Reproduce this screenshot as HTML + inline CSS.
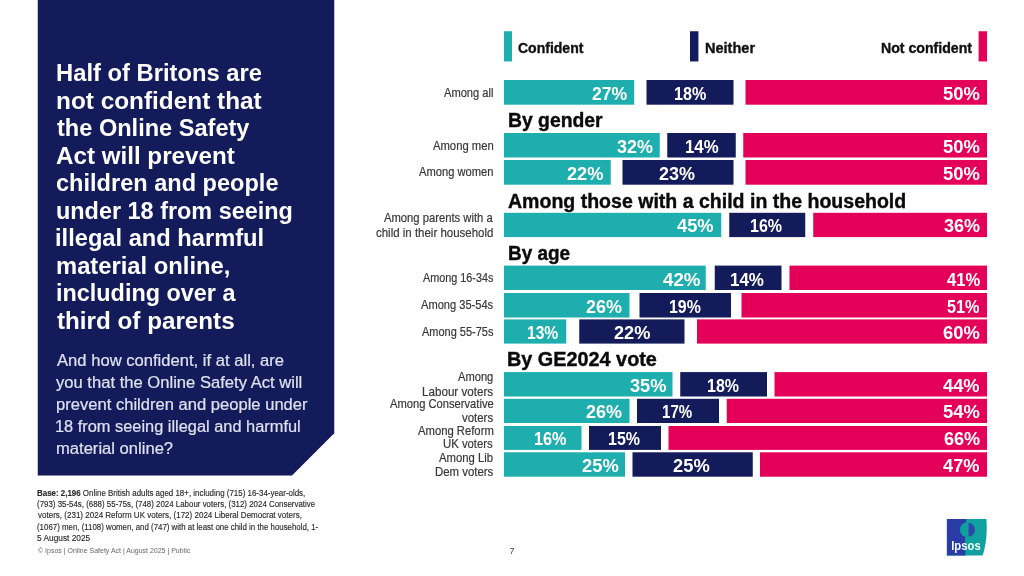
<!DOCTYPE html>
<html lang="en"><head><meta charset="utf-8"><title>Ipsos | Online Safety Act</title>
<style>
html,body{margin:0;padding:0;background:#fff}
body{width:1024px;height:576px;position:relative;overflow:hidden;font-family:"Liberation Sans",sans-serif}
.t{position:absolute;white-space:nowrap;line-height:1;margin:0;transform-origin:0 50%}
.b{position:absolute;height:24.40px}
.panel{position:absolute;left:0;top:0}
</style></head><body>
<svg class="panel" width="1024" height="576" viewBox="0 0 1024 576">
<polygon points="37.75,0 334.25,0 334.25,433.3 292,475.6 37.75,475.6" fill="#131b5a"/>
<rect x="504" y="31.25" width="8" height="30.2" fill="#1eaead"/>
<rect x="690" y="31.25" width="8.4" height="30.2" fill="#131b5a"/>
<rect x="978.6" y="31.25" width="8.4" height="30.2" fill="#e40058"/>
<rect x="504.00" y="80.00" width="130.25" height="24.70" fill="#1eaead"/>
<rect x="646.50" y="80.00" width="87.00" height="24.70" fill="#131b5a"/>
<rect x="745.50" y="80.00" width="241.50" height="24.70" fill="#e40058"/>
<rect x="504.00" y="133.00" width="155.75" height="24.50" fill="#1eaead"/>
<rect x="667.25" y="133.00" width="68.50" height="24.50" fill="#131b5a"/>
<rect x="743.25" y="133.00" width="243.75" height="24.50" fill="#e40058"/>
<rect x="504.00" y="160.00" width="106.75" height="24.70" fill="#1eaead"/>
<rect x="622.50" y="160.00" width="111.00" height="24.70" fill="#131b5a"/>
<rect x="745.50" y="160.00" width="241.50" height="24.70" fill="#e40058"/>
<rect x="504.00" y="212.80" width="217.25" height="24.30" fill="#1eaead"/>
<rect x="729.25" y="212.80" width="76.00" height="24.30" fill="#131b5a"/>
<rect x="813.25" y="212.80" width="173.75" height="24.30" fill="#e40058"/>
<rect x="504.00" y="265.60" width="201.75" height="24.40" fill="#1eaead"/>
<rect x="714.75" y="265.60" width="66.75" height="24.40" fill="#131b5a"/>
<rect x="789.50" y="265.60" width="197.50" height="24.40" fill="#e40058"/>
<rect x="504.00" y="293.00" width="125.50" height="24.50" fill="#1eaead"/>
<rect x="639.50" y="293.00" width="91.50" height="24.50" fill="#131b5a"/>
<rect x="741.50" y="293.00" width="245.50" height="24.50" fill="#e40058"/>
<rect x="504.00" y="319.40" width="62.25" height="24.20" fill="#1eaead"/>
<rect x="579.25" y="319.40" width="105.25" height="24.20" fill="#131b5a"/>
<rect x="697.00" y="319.40" width="290.00" height="24.20" fill="#e40058"/>
<rect x="504.00" y="372.10" width="168.50" height="24.40" fill="#1eaead"/>
<rect x="680.25" y="372.10" width="86.75" height="24.40" fill="#131b5a"/>
<rect x="774.50" y="372.10" width="212.50" height="24.40" fill="#e40058"/>
<rect x="504.00" y="398.80" width="125.50" height="24.20" fill="#1eaead"/>
<rect x="637.00" y="398.80" width="82.00" height="24.20" fill="#131b5a"/>
<rect x="726.75" y="398.80" width="260.25" height="24.20" fill="#e40058"/>
<rect x="504.00" y="426.00" width="77.50" height="23.90" fill="#1eaead"/>
<rect x="589.00" y="426.00" width="72.00" height="23.90" fill="#131b5a"/>
<rect x="668.50" y="426.00" width="318.50" height="23.90" fill="#e40058"/>
<rect x="504.00" y="452.30" width="121.00" height="24.40" fill="#1eaead"/>
<rect x="632.50" y="452.30" width="120.25" height="24.40" fill="#131b5a"/>
<rect x="760.00" y="452.30" width="227.00" height="24.40" fill="#e40058"/>
</svg>
<div class="t" style="left:55.73px;top:62.00px;font-size:23.5px;font-weight:700;color:#ffffff;transform:scaleX(1.0112)">Half of Britons are</div>
<div class="t" style="left:55.69px;top:90.00px;font-size:23.5px;font-weight:700;color:#ffffff;transform:scaleX(1.0369)">not confident that</div>
<div class="t" style="left:57.00px;top:117.00px;font-size:23.5px;font-weight:700;color:#ffffff;transform:scaleX(1.0026)">the Online Safety</div>
<div class="t" style="left:56.48px;top:145.00px;font-size:23.5px;font-weight:700;color:#ffffff;transform:scaleX(1.0289)">Act will prevent</div>
<div class="t" style="left:56.25px;top:172.00px;font-size:23.5px;font-weight:700;color:#ffffff;transform:scaleX(1.0023)">children and people</div>
<div class="t" style="left:55.75px;top:200.00px;font-size:23.5px;font-weight:700;color:#ffffff;transform:scaleX(0.9968)">under 18 from seeing</div>
<div class="t" style="left:55.49px;top:227.00px;font-size:23.5px;font-weight:700;color:#ffffff;transform:scaleX(1.0073)">illegal and harmful</div>
<div class="t" style="left:55.73px;top:255.00px;font-size:23.5px;font-weight:700;color:#ffffff;transform:scaleX(1.0118)">material online,</div>
<div class="t" style="left:55.51px;top:282.00px;font-size:23.5px;font-weight:700;color:#ffffff;transform:scaleX(0.9958)">including over a</div>
<div class="t" style="left:56.99px;top:310.00px;font-size:23.5px;font-weight:700;color:#ffffff;transform:scaleX(1.0307)">third of parents</div>
<div class="t" style="left:56.75px;top:353.00px;font-size:15.8px;font-weight:400;color:#dee1ef;transform:scaleX(1.0511);-webkit-text-stroke:0.2px #dee1ef">And how confident, if at all, are</div>
<div class="t" style="left:56.49px;top:375.00px;font-size:15.8px;font-weight:400;color:#dee1ef;transform:scaleX(1.0504);-webkit-text-stroke:0.2px #dee1ef">you that the Online Safety Act will</div>
<div class="t" style="left:55.70px;top:397.00px;font-size:15.8px;font-weight:400;color:#dee1ef;transform:scaleX(1.0493);-webkit-text-stroke:0.2px #dee1ef">prevent children and people under</div>
<div class="t" style="left:55.45px;top:419.00px;font-size:15.8px;font-weight:400;color:#dee1ef;transform:scaleX(1.0362);-webkit-text-stroke:0.2px #dee1ef">18 from seeing illegal and harmful</div>
<div class="t" style="left:55.70px;top:441.00px;font-size:15.8px;font-weight:400;color:#dee1ef;transform:scaleX(1.0500);-webkit-text-stroke:0.2px #dee1ef">material online?</div>
<div class="t" style="left:37.35px;top:489.00px;font-size:8.9px;font-weight:400;color:#2a2a2a;transform:scaleX(0.8936);-webkit-text-stroke:0.15px #2a2a2a"><b>Base: 2,196</b> Online British adults aged 18+, including (715) 16-34-year-olds,</div>
<div class="t" style="left:37.35px;top:500.00px;font-size:8.9px;font-weight:400;color:#2a2a2a;transform:scaleX(0.8905);-webkit-text-stroke:0.15px #2a2a2a">(793) 35-54s, (688) 55-75s, (748) 2024 Labour voters, (312) 2024 Conservative</div>
<div class="t" style="left:37.80px;top:511.00px;font-size:8.9px;font-weight:400;color:#2a2a2a;transform:scaleX(0.9037);-webkit-text-stroke:0.15px #2a2a2a">voters, (231) 2024 Reform UK voters, (172) 2024 Liberal Democrat voters,</div>
<div class="t" style="left:37.36px;top:523.00px;font-size:8.9px;font-weight:400;color:#2a2a2a;transform:scaleX(0.8870);-webkit-text-stroke:0.15px #2a2a2a">(1067) men, (1108) women, and (747) with at least one child in the household, 1-</div>
<div class="t" style="left:37.33px;top:534.00px;font-size:8.9px;font-weight:400;color:#2a2a2a;transform:scaleX(0.9363);-webkit-text-stroke:0.15px #2a2a2a">5 August 2025</div>
<div class="t" style="left:37.80px;top:547.00px;font-size:7.6px;font-weight:400;color:#666666;transform:scaleX(0.9192)">© Ipsos | Online Safety Act | August 2025 | Public</div>
<div class="t" style="left:509.50px;top:547.00px;font-size:9px;font-weight:400;color:#444444;transform:scaleX(1.0000)">7</div>
<div class="t" style="left:518.24px;top:42.00px;font-size:13.8px;font-weight:700;color:#111111;transform:scaleX(1.0157);-webkit-text-stroke:0.35px #111111">Confident</div>
<div class="t" style="left:704.65px;top:42.00px;font-size:13.8px;font-weight:700;color:#111111;transform:scaleX(1.0530);-webkit-text-stroke:0.35px #111111">Neither</div>
<div class="t" style="left:881.38px;top:42.00px;font-size:13.8px;font-weight:700;color:#111111;transform:scaleX(1.0245);-webkit-text-stroke:0.35px #111111">Not confident</div>
<div class="t" style="left:507.56px;top:110.00px;font-size:20.3px;font-weight:700;color:#0a0a0a;transform:scaleX(0.9540);-webkit-text-stroke:0.4px #0a0a0a">By gender</div>
<div class="t" style="left:508.27px;top:191.00px;font-size:20.3px;font-weight:700;color:#0a0a0a;transform:scaleX(0.9630);-webkit-text-stroke:0.4px #0a0a0a">Among those with a child in the household</div>
<div class="t" style="left:507.58px;top:243.00px;font-size:20.3px;font-weight:700;color:#0a0a0a;transform:scaleX(0.9341);-webkit-text-stroke:0.4px #0a0a0a">By age</div>
<div class="t" style="left:507.28px;top:349.00px;font-size:20.3px;font-weight:700;color:#0a0a0a;transform:scaleX(0.9776);-webkit-text-stroke:0.4px #0a0a0a">By GE2024 vote</div>
<div class="t" style="left:592.25px;top:86.00px;font-size:17.7px;font-weight:700;color:#ffffff;transform:scaleX(0.9957)">27%</div>
<div class="t" style="left:673.59px;top:86.00px;font-size:17.7px;font-weight:700;color:#ffffff;transform:scaleX(0.9118)">18%</div>
<div class="t" style="left:943.08px;top:86.00px;font-size:17.7px;font-weight:700;color:#ffffff;transform:scaleX(1.0406)">50%</div>
<div class="t" style="left:444.00px;top:87.00px;font-size:12.1px;font-weight:400;color:#383838;transform:scaleX(0.9198);-webkit-text-stroke:0.2px #383838">Among all</div>
<div class="t" style="left:616.99px;top:139.00px;font-size:17.7px;font-weight:700;color:#ffffff;transform:scaleX(1.0145)">32%</div>
<div class="t" style="left:684.80px;top:139.00px;font-size:17.7px;font-weight:700;color:#ffffff;transform:scaleX(0.9485)">14%</div>
<div class="t" style="left:943.08px;top:139.00px;font-size:17.7px;font-weight:700;color:#ffffff;transform:scaleX(1.0406)">50%</div>
<div class="t" style="left:432.75px;top:140.00px;font-size:12.1px;font-weight:400;color:#383838;transform:scaleX(0.9302);-webkit-text-stroke:0.2px #383838">Among men</div>
<div class="t" style="left:566.99px;top:166.00px;font-size:17.7px;font-weight:700;color:#ffffff;transform:scaleX(1.0290)">22%</div>
<div class="t" style="left:659.49px;top:166.00px;font-size:17.7px;font-weight:700;color:#ffffff;transform:scaleX(1.0145)">23%</div>
<div class="t" style="left:943.08px;top:166.00px;font-size:17.7px;font-weight:700;color:#ffffff;transform:scaleX(1.0406)">50%</div>
<div class="t" style="left:419.00px;top:166.00px;font-size:12.1px;font-weight:400;color:#383838;transform:scaleX(0.9219);-webkit-text-stroke:0.2px #383838">Among women</div>
<div class="t" style="left:677.14px;top:218.00px;font-size:17.7px;font-weight:700;color:#ffffff;transform:scaleX(1.0331)">45%</div>
<div class="t" style="left:750.39px;top:218.00px;font-size:17.7px;font-weight:700;color:#ffffff;transform:scaleX(0.9059)">16%</div>
<div class="t" style="left:943.99px;top:218.00px;font-size:17.7px;font-weight:700;color:#ffffff;transform:scaleX(1.0174)">36%</div>
<div class="t" style="left:384.00px;top:212.00px;font-size:12.1px;font-weight:400;color:#383838;transform:scaleX(0.9295);-webkit-text-stroke:0.2px #383838">Among parents with a</div>
<div class="t" style="left:376.03px;top:227.00px;font-size:12.1px;font-weight:400;color:#383838;transform:scaleX(0.9490);-webkit-text-stroke:0.2px #383838">child in their household</div>
<div class="t" style="left:662.64px;top:272.00px;font-size:17.7px;font-weight:700;color:#ffffff;transform:scaleX(1.0590)">42%</div>
<div class="t" style="left:730.24px;top:272.00px;font-size:17.7px;font-weight:700;color:#ffffff;transform:scaleX(0.9588)">14%</div>
<div class="t" style="left:946.77px;top:272.00px;font-size:17.7px;font-weight:700;color:#ffffff;transform:scaleX(0.9381)">41%</div>
<div class="t" style="left:422.75px;top:272.00px;font-size:12.1px;font-weight:400;color:#383838;transform:scaleX(0.8946);-webkit-text-stroke:0.2px #383838">Among 16-34s</div>
<div class="t" style="left:586.49px;top:299.00px;font-size:17.7px;font-weight:700;color:#ffffff;transform:scaleX(1.0145)">26%</div>
<div class="t" style="left:669.10px;top:299.00px;font-size:17.7px;font-weight:700;color:#ffffff;transform:scaleX(0.8971)">19%</div>
<div class="t" style="left:947.14px;top:299.00px;font-size:17.7px;font-weight:700;color:#ffffff;transform:scaleX(0.9188)">51%</div>
<div class="t" style="left:421.00px;top:299.00px;font-size:12.1px;font-weight:400;color:#383838;transform:scaleX(0.9169);-webkit-text-stroke:0.2px #383838">Among 35-54s</div>
<div class="t" style="left:526.87px;top:325.00px;font-size:17.7px;font-weight:700;color:#ffffff;transform:scaleX(0.8824)">13%</div>
<div class="t" style="left:613.99px;top:325.00px;font-size:17.7px;font-weight:700;color:#ffffff;transform:scaleX(1.0290)">22%</div>
<div class="t" style="left:943.12px;top:325.00px;font-size:17.7px;font-weight:700;color:#ffffff;transform:scaleX(1.0394)">60%</div>
<div class="t" style="left:421.75px;top:326.00px;font-size:12.1px;font-weight:400;color:#383838;transform:scaleX(0.9073);-webkit-text-stroke:0.2px #383838">Among 55-75s</div>
<div class="t" style="left:630.24px;top:378.00px;font-size:17.7px;font-weight:700;color:#ffffff;transform:scaleX(1.0290)">35%</div>
<div class="t" style="left:707.35px;top:378.00px;font-size:17.7px;font-weight:700;color:#ffffff;transform:scaleX(0.9044)">18%</div>
<div class="t" style="left:943.14px;top:378.00px;font-size:17.7px;font-weight:700;color:#ffffff;transform:scaleX(1.0302)">44%</div>
<div class="t" style="left:458.25px;top:371.00px;font-size:12.1px;font-weight:400;color:#383838;transform:scaleX(0.9200);-webkit-text-stroke:0.2px #383838">Among</div>
<div class="t" style="left:422.04px;top:386.00px;font-size:12.1px;font-weight:400;color:#383838;transform:scaleX(0.9621);-webkit-text-stroke:0.2px #383838">Labour voters</div>
<div class="t" style="left:586.49px;top:404.00px;font-size:17.7px;font-weight:700;color:#ffffff;transform:scaleX(1.0145)">26%</div>
<div class="t" style="left:662.15px;top:404.00px;font-size:17.7px;font-weight:700;color:#ffffff;transform:scaleX(0.8529)">17%</div>
<div class="t" style="left:942.78px;top:404.00px;font-size:17.7px;font-weight:700;color:#ffffff;transform:scaleX(1.0377)">54%</div>
<div class="t" style="left:389.50px;top:398.00px;font-size:12.1px;font-weight:400;color:#383838;transform:scaleX(0.9239);-webkit-text-stroke:0.2px #383838">Among Conservative</div>
<div class="t" style="left:462.01px;top:412.00px;font-size:12.1px;font-weight:400;color:#383838;transform:scaleX(0.9457);-webkit-text-stroke:0.2px #383838">voters</div>
<div class="t" style="left:534.08px;top:431.00px;font-size:17.7px;font-weight:700;color:#ffffff;transform:scaleX(0.9191)">16%</div>
<div class="t" style="left:608.10px;top:431.00px;font-size:17.7px;font-weight:700;color:#ffffff;transform:scaleX(0.9044)">15%</div>
<div class="t" style="left:943.73px;top:431.00px;font-size:17.7px;font-weight:700;color:#ffffff;transform:scaleX(1.0219)">66%</div>
<div class="t" style="left:417.75px;top:425.00px;font-size:12.1px;font-weight:400;color:#383838;transform:scaleX(0.9317);-webkit-text-stroke:0.2px #383838">Among Reform</div>
<div class="t" style="left:443.31px;top:438.00px;font-size:12.1px;font-weight:400;color:#383838;transform:scaleX(0.9372);-webkit-text-stroke:0.2px #383838">UK voters</div>
<div class="t" style="left:581.73px;top:458.00px;font-size:17.7px;font-weight:700;color:#ffffff;transform:scaleX(1.0362)">25%</div>
<div class="t" style="left:673.48px;top:458.00px;font-size:17.7px;font-weight:700;color:#ffffff;transform:scaleX(1.0362)">25%</div>
<div class="t" style="left:943.04px;top:458.00px;font-size:17.7px;font-weight:700;color:#ffffff;transform:scaleX(1.0302)">47%</div>
<div class="t" style="left:439.25px;top:452.00px;font-size:12.1px;font-weight:400;color:#383838;transform:scaleX(0.9345);-webkit-text-stroke:0.2px #383838">Among Lib</div>
<div class="t" style="left:435.06px;top:466.00px;font-size:12.1px;font-weight:400;color:#383838;transform:scaleX(0.9419);-webkit-text-stroke:0.2px #383838">Dem voters</div>
<svg class="panel" width="1024" height="576" viewBox="0 0 1024 576">
<path d="M946.9,518.9 H986.4 C987.4,530 986.4,544 982.6,555.6 H946.9 Z" fill="#10a0a0"/>
<path d="M946.9,518.9 H966.4 C965.2,530 964.6,545 965.6,555.6 H946.9 Z" fill="#2c3ca6"/>
<path d="M968.6,522 A8.7,7.8 0 0,0 968.6,537.6 Z" fill="#10a0a0"/>
<path d="M968.6,523 A6.4,6.8 0 0,1 968.6,536.6 Z" fill="#3044aa"/>
<path d="M965.2,536 L968.6,536 L968.6,541.4 L966.2,541.4 Z" fill="#10a0a0"/>
<text x="951.2" y="549.5" font-family="Liberation Sans, sans-serif" font-weight="700" font-size="12" fill="#f4ffff" textLength="29.6" lengthAdjust="spacingAndGlyphs">Ipsos</text>
</svg>
</body></html>
